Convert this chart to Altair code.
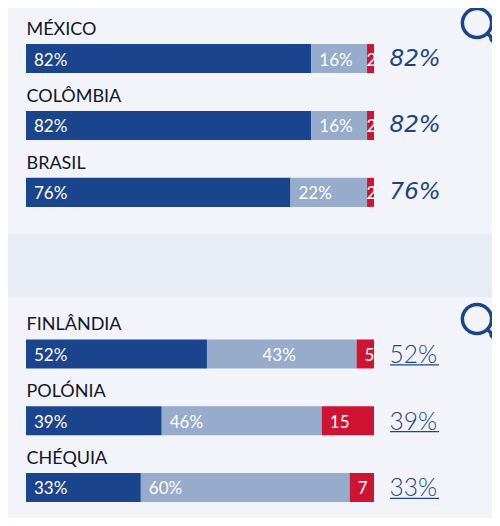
import altair as alt
import pandas as pd

top_countries = ["MÉXICO", "COLÔMBIA", "BRASIL"]
top_high = [82, 82, 76]
top_mid = [16, 16, 22]
top_low = [2, 2, 2]

bottom_countries = ["FINLÂNDIA", "POLÓNIA", "CHÉQUIA"]
bottom_high = [52, 39, 33]
bottom_mid = [43, 46, 60]
bottom_low = [5, 15, 7]

DARK, LIGHT, RED = "#1a448c", "#97abca", "#cf1433"
INK = "#10162c"
BAND_FONT = "Lato"


def build_rows(countries, high, mid, low):
    rows = []
    for c, h, m, l in zip(countries, high, mid, low):
        rows.append(dict(country=c, part="high", start=0, end=h, value=h, label=f"{h}%", total=f"{h}%"))
        rows.append(dict(country=c, part="mid", start=h, end=h + m, value=m, label=f"{m}%", total=f"{h}%"))
        rows.append(dict(country=c, part="low", start=h + m, end=h + m + l, value=l, label=f"{l}", total=f"{h}%"))
    return pd.DataFrame(rows)


def magnifier(cy):
    one = alt.Data(values=[{"a": 1}])
    ring = alt.Chart(one).mark_point(
        shape="circle", filled=False, stroke=DARK, strokeWidth=3.5, size=(2 * 14.6) ** 2, opacity=1, clip=True
    ).encode(x=alt.value(469), y=alt.value(cy))
    neck = alt.Chart(one).mark_rule(stroke=DARK, strokeWidth=3.5, clip=True).encode(
        x=alt.value(479), x2=alt.value(486), y=alt.value(cy + 10), y2=alt.value(cy + 17)
    )
    grip = alt.Chart(one).mark_rule(stroke=DARK, strokeWidth=7, strokeCap="round", clip=True).encode(
        x=alt.value(485), x2=alt.value(497), y=alt.value(cy + 16), y2=alt.value(cy + 28)
    )
    return [ring, neck, grip]


def panel(countries, high, mid, low, height, outer, align, cy, underline):
    df = build_rows(countries, high, mid, low)
    xs = alt.Scale(domain=[0, 100], range=[18, 366])
    ys = alt.Scale(domain=countries, paddingInner=0.5655, paddingOuter=outer, align=align)
    y = alt.Y("country:N", scale=ys, axis=None)
    x = alt.X("start:Q", scale=xs, axis=None)

    bars = alt.Chart(df).mark_bar().encode(
        x=x, x2="end:Q", y=y,
        color=alt.Color("part:N", scale=alt.Scale(domain=["high", "mid", "low"], range=[DARK, LIGHT, RED]), legend=None),
    )
    names = alt.Chart(df[df.part == "high"]).mark_text(
        align="left", baseline="middle", font=BAND_FONT, fontSize=18, color=INK, dy=-28.5
    ).encode(x=alt.value(18.5), y=y, text="country:N")

    placed = df[~df.label.isin(["43%", "2"])]
    seg = alt.Chart(placed).mark_text(
        align="left", baseline="middle", font=BAND_FONT, fontSize=17, color="white", dx=8, dy=2
    ).encode(x=x, y=y, text="label:N")
    layers = [bars, names, seg]
    moved = df[df.label == "43%"]
    if len(moved):
        layers.append(alt.Chart(moved).mark_text(
            align="left", baseline="middle", font=BAND_FONT, fontSize=17, color="white", dx=55.5, dy=2
        ).encode(x=x, y=y, text="label:N"))
    tiny = df[df.label == "2"]
    if len(tiny):
        layers.append(alt.Chart(tiny).mark_text(
            align="left", baseline="middle", font=BAND_FONT, fontSize=17, color="white", dx=-0.5, dy=2
        ).encode(x=x, y=y, text="label:N"))

    tot_df = df[df.part == "high"]
    if underline:
        layers.append(alt.Chart(tot_df).mark_text(
            align="left", baseline="middle", font="Lato", fontWeight=300, fontSize=24.5, color=DARK, dy=2
        ).encode(x=alt.value(381.5), y=y, text="total:N"))
        layers.append(alt.Chart(tot_df).mark_rule(stroke=DARK, strokeWidth=1.3, yOffset=11).encode(
            x=alt.value(382), x2=alt.value(431), y=y
        ))
    else:
        layers.append(alt.Chart(tot_df).mark_text(
            align="left", baseline="middle", font="DejaVu Sans", fontStyle="italic", fontSize=23, color=DARK, dy=0
        ).encode(x=alt.value(381.5), y=y, text="total:N"))

    layers += magnifier(cy)
    return alt.layer(*layers).properties(width=484, height=height)


first = panel(top_countries, top_high, top_mid, top_low, 226, 0.472, 0.571, 15, False)
second = panel(bottom_countries, bottom_high, bottom_mid, bottom_low, 221, 0.438, 0.726, 22, True)

chart = alt.vconcat(first, second, spacing=63).properties(
    padding=0, background="#e8ecf5"
).configure_view(fill="#f2f4fa", stroke=None).configure_concat(spacing=63)

chart.save("out.html", embed_options={"renderer": "svg", "actions": False})
